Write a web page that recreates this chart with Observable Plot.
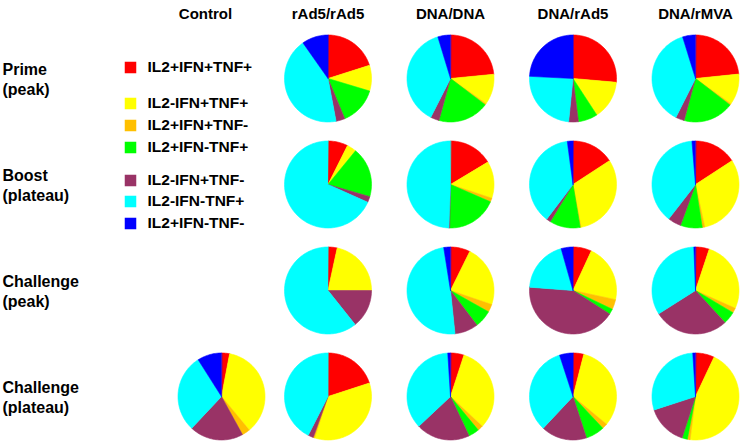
<!DOCTYPE html>
<html><head><meta charset="utf-8">
<script src="https://cdn.jsdelivr.net/npm/d3@7"></script>
<script src="https://cdn.jsdelivr.net/npm/@observablehq/plot@0.6"></script>
<style>body{margin:0;background:#fff}</style>
</head><body><div id="chart"></div>
<script>
// ---- data ----
const subsets = ["IL2+IFN+TNF+","IL2-IFN+TNF+","IL2+IFN+TNF-","IL2+IFN-TNF+","IL2-IFN+TNF-","IL2-IFN-TNF+","IL2+IFN-TNF-"];
const subsetColors = ["#ff0000","#ffff00","#ffc000","#00ff00","#993366","#00ffff","#0000ff"];
const groups = ["Control","rAd5/rAd5","DNA/DNA","DNA/rAd5","DNA/rMVA"];
const phases = ["Prime\n(peak)","Boost\n(plateau)","Challenge\n(peak)","Challenge\n(plateau)"];
// percentages per group (Control, rAd5/rAd5, DNA/DNA, DNA/rAd5, DNA/rMVA), in subset order; null = not shown
const primePeak = [null,
  [20, 9.5, 0, 14, 3.3, 43, 9.7],
  [23.5, 11.4, 0.5, 19, 3.2, 37.9, 4.7],
  [26.4, 14.4, 0, 7.2, 3.6, 24.2, 24.2],
  [23.5, 11.6, 0.5, 18.9, 3.2, 38, 4.8]];
const boostPlateau = [null,
  [7.4, 3.5, 0, 18.6, 2.2, 68.3, 0],
  [16.4, 13.7, 1.4, 18.8, 0.3, 49.4, 0],
  [15.8, 31.3, 0.3, 11.4, 1.6, 37.6, 2.1],
  [15.8, 30.8, 0.9, 8.1, 4.9, 38.2, 1.3]];
const challengePeak = [null,
  [3.4, 21.6, 0, 0, 14.3, 60.7, 0],
  [7.3, 22.9, 2.9, 6.5, 8.7, 49.1, 2.5],
  [6.9, 21.5, 3.7, 2, 42.2, 19.4, 4.4],
  [5.1, 26.6, 1.8, 4.7, 27.8, 33.4, 0.6]];
const challengePlateau = [
  [3, 36, 3, 0, 20, 29, 9],
  [20, 35, 0.5, 0, 2, 42.5, 0],
  [5, 32, 2, 4, 20, 36, 1],
  [4, 32, 2, 7, 17, 33, 5],
  [7, 45, 1, 2, 15, 29, 1]];
const phaseValues = [primePeak, boostPlateau, challengePeak, challengePlateau];

// ---- layout (pixels) ----
const W = 744, H = 441;
const X0 = 205, DX = 122.5;   // column 0 (header) center, column spacing
const CONTROL_PIE_SHIFT = 16; // control pie sits right of its header
const Y0 = 78, DY = 106;      // row 0 center, row spacing
const R = 43.5;               // pie radius
const rx = R / DX, ry = R / DY;
const legendYpx = [67, 103, 125, 147, 180, 201, 223];
const px2x = p => (p - X0) / DX, px2y = p => (p - Y0) / DY;

// ---- build wedge polygons ----
const pie = d3.pie().sort(null);
const wedges = [];
phaseValues.forEach((row, r) => {
  row.forEach((vals, c) => {
    if (!vals) return;
    const cx = c + (c === 0 ? CONTROL_PIE_SHIFT / DX : 0);
    pie(vals).forEach((a, k) => {
      if (a.value <= 0) return;
      const id = `${r}-${c}-${k}`;
      const n = Math.max(2, Math.ceil((a.endAngle - a.startAngle) / (Math.PI / 90)));
      wedges.push({id, subset: subsets[k], x: cx, y: r});
      for (let i = 0; i <= n; i++) {
        const t = a.startAngle + (a.endAngle - a.startAngle) * i / n;
        wedges.push({id, subset: subsets[k], x: cx + rx * Math.sin(t), y: r - ry * Math.cos(t)});
      }
    });
  });
});

const font = "'Liberation Sans', Arial, sans-serif";
const chart = Plot.plot({
  width: W, height: H,
  margin: 0,
  style: {fontFamily: font, background: "#fff"},
  x: {domain: [px2x(0), px2x(W)], range: [0, W], axis: null},
  y: {domain: [px2y(0), px2y(H)], range: [0, H], axis: null},
  color: {domain: subsets, range: subsetColors},
  marks: [
    Plot.line(wedges, {x: "x", y: "y", z: "id", fill: "subset", stroke: "subset", strokeWidth: 0.6, curve: "linear-closed"}),
    Plot.text(groups, {x: (d, i) => i, y: px2y(14), text: d => d, fontSize: 15, fontWeight: "bold", fill: "#000"}),
    Plot.text(phases, {x: px2x(2), y: (d, i) => i, text: d => d, textAnchor: "start", fontSize: 16, fontWeight: "bold", lineHeight: 1.25, fill: "#000"}),
    Plot.dot(subsets, {x: px2x(130), y: (d, i) => px2y(legendYpx[i]), symbol: "square", r: 6.5, fill: d => d, stroke: null}),
    Plot.text(subsets, {x: px2x(147), y: (d, i) => px2y(legendYpx[i]), text: d => d, textAnchor: "start", fontSize: 15.5, fontWeight: "bold", fill: "#000"})
  ]
});
document.getElementById("chart").append(chart);
</script>
</body></html>
